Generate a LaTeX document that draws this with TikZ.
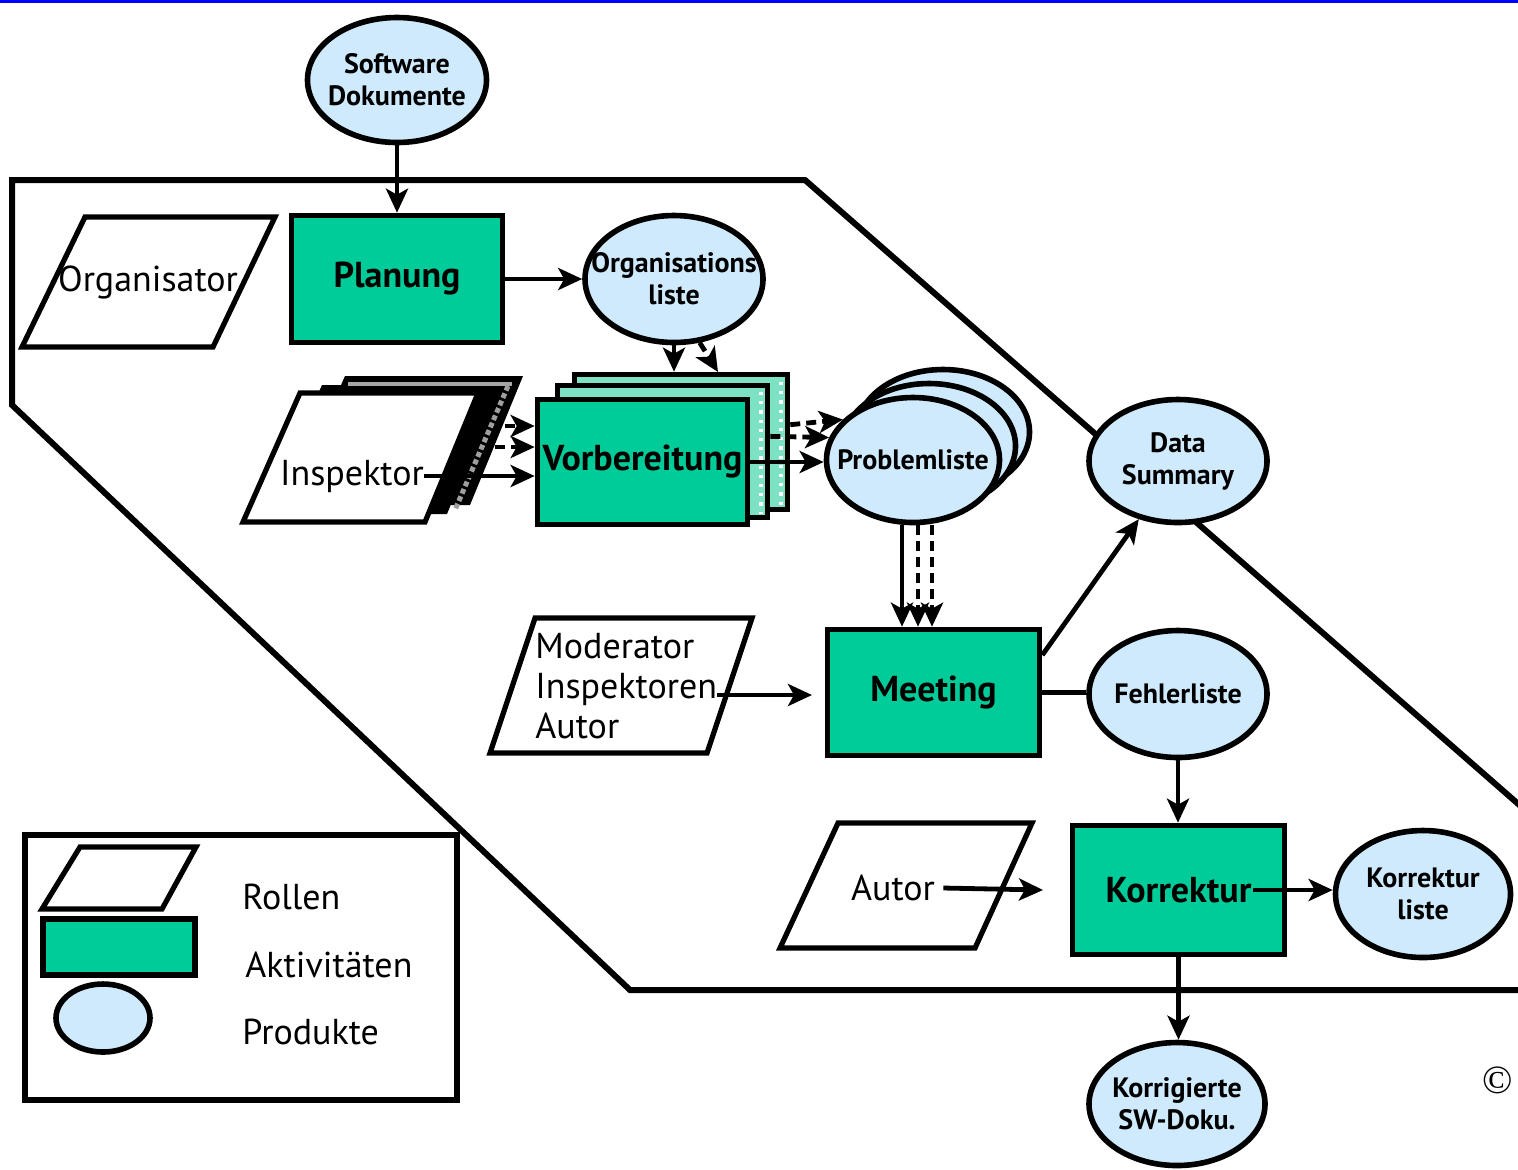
\documentclass[tikz,border=0pt]{standalone}
\usepackage{fontspec}
\setmainfont{PT Sans}
\newfontfamily\serifcopy{Liberation Serif}
\usetikzlibrary{shapes.geometric,arrows.meta,calc}
\definecolor{actgreen}{RGB}{0,204,153}
\definecolor{prodblue}{RGB}{206,234,252}
\definecolor{vbback}{RGB}{125,226,196}
\definecolor{topblue}{RGB}{0,0,255}
\newcommand\fbig{\fontsize{18}{21}\selectfont\bfseries}
\newcommand\freg{\fontsize{18}{20}\selectfont}
\newcommand\fsmall{\fontsize{14}{16}\selectfont\bfseries}
\tikzset{
  act/.style={draw, line width=2.8pt, fill=actgreen, inner sep=0pt, font=\fbig},
  prod/.style={ellipse, draw, line width=2.8pt, fill=prodblue, inner sep=0pt},
  prodtext/.style={font=\fsmall, align=center, inner sep=0pt},
  role/.style={draw, line width=2.6pt, fill=white, line join=miter},
  lbl/.style={inner sep=0pt, font=\freg},
  arr/.style={line width=2.4pt, -{Stealth[length=12pt,width=11pt,inset=3pt]}},
  dasharr/.style={arr, dash pattern=on 5pt off 3pt},
  plainline/.style={line width=2.2pt}
}
\begin{document}
\begin{tikzpicture}[x=0.5pt,y=-0.5pt]
\useasboundingbox (0,0) rectangle (1518,1169);
\clip (0,0) rectangle (1518,1169);
\fill[white] (0,0) rectangle (1518,1169);
\fill[topblue] (0,0) rectangle (1518,3);

% big process boundary
\draw[line width=3pt, line join=miter] (12,180) -- (805,180) -- (1540,823) -- (1540,990) -- (630,990) -- (12,405) -- cycle;

% legend
\draw[line width=2.6pt, fill=white] (25,835) rectangle (457,1100);
\draw[role] (80,847) -- (196,847) -- (162,909) -- (42,909) -- cycle;
\node[act, minimum width=76pt, minimum height=28pt] (legact) at (119,947) {};
\node[prod, minimum width=47pt, minimum height=34pt] (legprod) at (103,1018) {};
\node[lbl, anchor=west] (legr) at (242,897) {Rollen};
\node[lbl, anchor=west] (lega) at (245,965) {Aktivitäten};
\node[lbl, anchor=west] (legp) at (242,1032) {Produkte};

% roles
\draw[role] (85,217) -- (275,217) -- (213,347) -- (22,347) -- cycle;
\node[lbl] (org) at (148,282) {Organisator};

\fill[black] (345,376) -- (523,376) -- (470,505) -- (288,505) -- cycle;
\fill[black] (322,385) -- (500,385) -- (447,514) -- (265,514) -- cycle;
\draw[gray!70, line width=2pt] (348,384) -- (512,384);
\draw[gray!75, line width=2.5pt, dash pattern=on 2.5pt off 1.5pt] (508,386) -- (455,510);
\draw[role] (300,393) -- (478,393) -- (425,522) -- (243,522) -- cycle;
\node[lbl] (ins) at (352,476) {Inspektor};

\draw[role] (535,618) -- (752,618) -- (707,753) -- (490,753) -- cycle;
\node[lbl, anchor=west, align=left, font=\fontsize{18}{20}\selectfont] (mod) at (535,686) {Moderator\\Inspektoren\\Autor};

\draw[role] (838,823) -- (1032,823) -- (975,948) -- (780,948) -- cycle;
\node[lbl] (aut) at (893,888) {Autor};

% products
\node[prod, minimum width=89.5pt, minimum height=62.5pt, label={[prodtext]center:{Software\\Dokumente}}] (sw) at (397,80) {};
\node[prod, minimum width=89pt, minimum height=63.5pt, label={[prodtext]center:{Organisations\\liste}}] (orgl) at (674,279) {};
\node[prod, minimum width=86.5pt, minimum height=62.5pt] (pl2) at (943,432) {};
\node[prod, minimum width=86.5pt, minimum height=62.5pt] (pl1) at (929,446) {};
\node[prod, minimum width=86.5pt, minimum height=62.5pt, label={[prodtext]center:{Problemliste}}] (pl) at (913,460) {};
\node[prod, minimum width=89pt, minimum height=61.5pt, label={[prodtext]center:{Data\\Summary}}] (ds) at (1178,461) {};
\node[prod, minimum width=89pt, minimum height=63.5pt, label={[prodtext]center:{Fehlerliste}}] (fl) at (1178,694) {};
\node[prod, minimum width=87.5pt, minimum height=63.5pt, label={[prodtext]center:{Korrektur\\liste}}] (kl) at (1423,894) {};
\node[prod, minimum width=88pt, minimum height=61.5pt, label={[prodtext]center:{Korrigierte\\SW-Doku.}}] (ksw) at (1177,1104) {};

% activities
\node[act, minimum width=105.5pt, minimum height=63.5pt] (plan) at (397,279) {Planung};
\node[act, fill=vbback, minimum width=106.5pt, minimum height=67.5pt] (vb2) at (681,442) {};
\node[act, fill=vbback, minimum width=105pt, minimum height=66pt] (vb1) at (662.5,451.5) {};
\draw[white, line width=1.6pt, dash pattern=on 1.6pt off 3pt] (781,382) -- (781,505);
\draw[white, line width=1.6pt, dash pattern=on 1.6pt off 3pt] (761,392) -- (761,514);
\node[act, minimum width=105pt, minimum height=62.5pt] (vb) at (642.5,462) {Vorbereitung};
\node[act, minimum width=106pt, minimum height=63pt] (meet) at (933.5,692.5) {Meeting};
\node[act, minimum width=106pt, minimum height=64.5pt] (kor) at (1178.5,890) {Korrektur};

% connectors
\draw[arr] (sw.south) -- (plan.north);
\draw[arr] (plan.east) -- (orgl.west);
\draw[arr] (orgl.south) -- (orgl.south |- vb2.north);
\coordinate (vbtop) at (718,372);
\draw[dasharr] (orgl.-68) -- (vbtop);

\coordinate (ib1) at (505,426);
\coordinate (ib2) at (495,447);
\draw[dasharr] (ib1) -- (ib1 -| vb.west);
\draw[dasharr] (ib2) -- (ib2 -| vb.west);
\draw[arr] (ins.east) -- (ins.east -| vb.west);

\draw[dasharr] (vb2.9) -- (pl.150);
\draw[dasharr] (vb1.8) -- (pl.165);
\draw[arr] (vb.east) -- (vb.east -| pl.west);

\draw[arr] ([xshift=-5.5pt]pl.south) -- ([xshift=-5.5pt]pl.south |- meet.north);
\draw[dasharr] ([xshift=2.5pt]pl.south) -- ([xshift=2.5pt]pl.south |- meet.north);
\draw[dasharr] ([xshift=9.5pt]pl.south) -- ([xshift=9.5pt]pl.south |- meet.north);

\coordinate (modend) at (812,695);
\draw[arr] ([yshift=-4.5pt]mod.east) -- (modend);

\draw[arr] (meet.19) -- (ds.236);
\draw[plainline] (meet.east) -- (meet.east -| fl.west);
\draw[arr] (fl.south) -- (fl.south |- kor.north);

\coordinate (autend) at (1043,890);
\draw[arr] ([xshift=4pt]aut.east) -- (autend);
\draw[arr] ([xshift=-17pt]kor.east) -- (kor.east -| kl.west);
\draw[arr] (kor.south) -- (kor.south |- ksw.north);

\node[inner sep=0pt, font=\serifcopy\fontsize{20}{20}\selectfont] (copy) at (1498,1080) {\textcopyright};
\end{tikzpicture}
\end{document}
